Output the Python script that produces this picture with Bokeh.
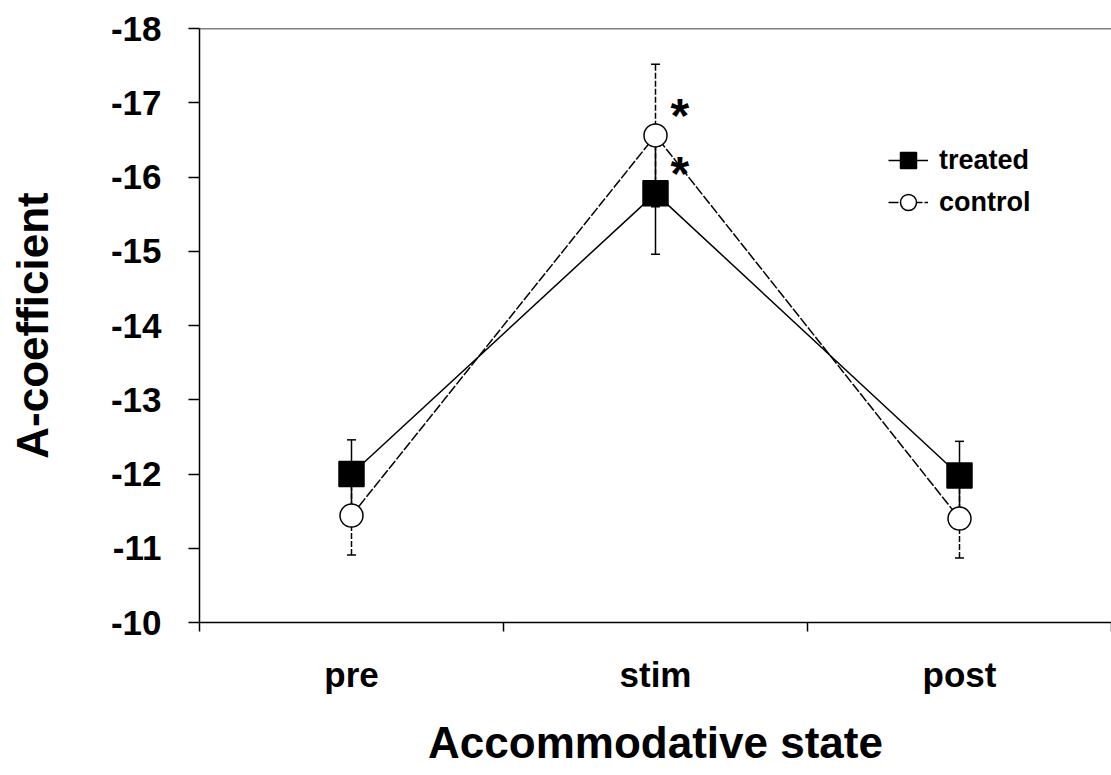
from bokeh.plotting import figure
from bokeh.models import (Range1d, FixedTicker, ColumnDataSource, Whisker, TeeHead,
                          Legend, LegendItem, Span)
from bokeh.core.properties import value
from bokeh.embed import file_html
from bokeh.resources import INLINE

categories = ["pre", "stim", "post"]
cat_x = [0.5, 1.5, 2.5]
treated = [-12.0, -15.78, -11.98]
treated_se = [0.46, 0.82, 0.46]
control = [-11.44, -16.56, -11.40]
control_se = [0.53, 0.96, 0.53]
y_ticks = [-10, -11, -12, -13, -14, -15, -16, -17, -18]
y_tick_labels = ["-10", "-11", "-12", "-13", "-14", "-15", "-16", "-17", "-18"]
star_x = [1.58, 1.58]
star_y = [-16.9, -16.11]

FONT = "Liberation Sans"

p = figure(width=1111, height=775, output_backend="svg", toolbar_location=None,
           x_range=Range1d(0, 3), y_range=Range1d(-10, -18),
           min_border_left=199, min_border_right=0, min_border_top=28, min_border_bottom=153)
p.outline_line_color = None
p.grid.visible = False
p.background_fill_color = "white"

# x axis
p.xaxis.ticker = FixedTicker(ticks=cat_x, minor_ticks=[0, 1, 2, 3])
p.xaxis.major_label_overrides = {x: c for x, c in zip(cat_x, categories)}
p.xaxis.major_tick_out = 0
p.xaxis.major_tick_in = 0
p.xaxis.minor_tick_out = 9
p.xaxis.minor_tick_in = 0
p.xaxis.minor_tick_line_color = "black"
p.xaxis.major_label_standoff = 23
p.xaxis.axis_label = "Accommodative state"
p.xaxis.axis_label_standoff = 21

# y axis
p.yaxis.ticker = FixedTicker(ticks=y_ticks)
p.yaxis.major_label_overrides = {t: l for t, l in zip(y_ticks, y_tick_labels)}
p.yaxis.major_tick_out = 11
p.yaxis.major_tick_in = 0
p.yaxis.minor_tick_line_color = None
p.yaxis.major_label_standoff = 27
p.yaxis.axis_label = "A-coefficient"
p.yaxis.axis_label_standoff = 51

for ax in (p.xaxis, p.yaxis):
    ax.axis_line_color = "black"
    ax.axis_line_width = 1.5
    ax.major_tick_line_color = "black"
    ax.major_tick_line_width = 1.5
    ax.minor_tick_line_width = 1.5
    ax.major_label_text_font = FONT
    ax.major_label_text_font_style = "bold"
    ax.major_label_text_font_size = "35px"
    ax.major_label_text_color = "black"
    ax.axis_label_text_font = FONT
    ax.axis_label_text_font_style = "bold"
    ax.axis_label_text_font_size = "44px"
    ax.axis_label_text_color = "black"

p.add_layout(Span(location=-18, dimension="width", line_color="black", line_width=1.5))

src_t = ColumnDataSource(dict(x=cat_x, y=treated,
                              lo=[v + s for v, s in zip(treated, treated_se)],
                              hi=[v - s for v, s in zip(treated, treated_se)]))
src_c = ColumnDataSource(dict(x=cat_x, y=control,
                              lo=[v + s for v, s in zip(control, control_se)],
                              hi=[v - s for v, s in zip(control, control_se)]))

for src, dash in ((src_t, "solid"), (src_c, "6 2")):
    w = Whisker(base="x", upper="hi", lower="lo", source=src, dimension="height",
                line_color="black", line_width=1.5, line_dash=dash,
                upper_head=TeeHead(size=9, line_width=1.5, line_color="black"),
                lower_head=TeeHead(size=9, line_width=1.5, line_color="black"))
    p.add_layout(w)

lt = p.line("x", "y", source=src_t, line_color="black", line_width=1.5)
lc = p.line("x", "y", source=src_c, line_color="black", line_width=1.5, line_dash="10 2")
st = p.scatter("x", "y", source=src_t, marker="square", size=25, fill_color="black",
               line_color="black", line_width=1.5)
sc = p.scatter("x", "y", source=src_c, marker="circle", size=23, fill_color="white",
               line_color="black", line_width=1.5)

p.text(x=star_x, y=star_y, text=["*", "*"], text_font=value(FONT), text_font_style="bold",
       text_font_size="48px", text_align="center", text_baseline="middle", y_offset=5,
       text_color="black")

leg = Legend(items=[LegendItem(label="treated", renderers=[lt, st]),
                    LegendItem(label="control", renderers=[lc, sc])],
             location=(689, 399), border_line_color=None, background_fill_alpha=0,
             padding=0, margin=0, spacing=0, glyph_width=40, glyph_height=42,
             label_height=42, label_standoff=11,
             label_text_font=FONT, label_text_font_style="bold",
             label_text_font_size="27px", label_text_color="black")
p.add_layout(leg)

open("out.html", "w").write(file_html(p, INLINE))
